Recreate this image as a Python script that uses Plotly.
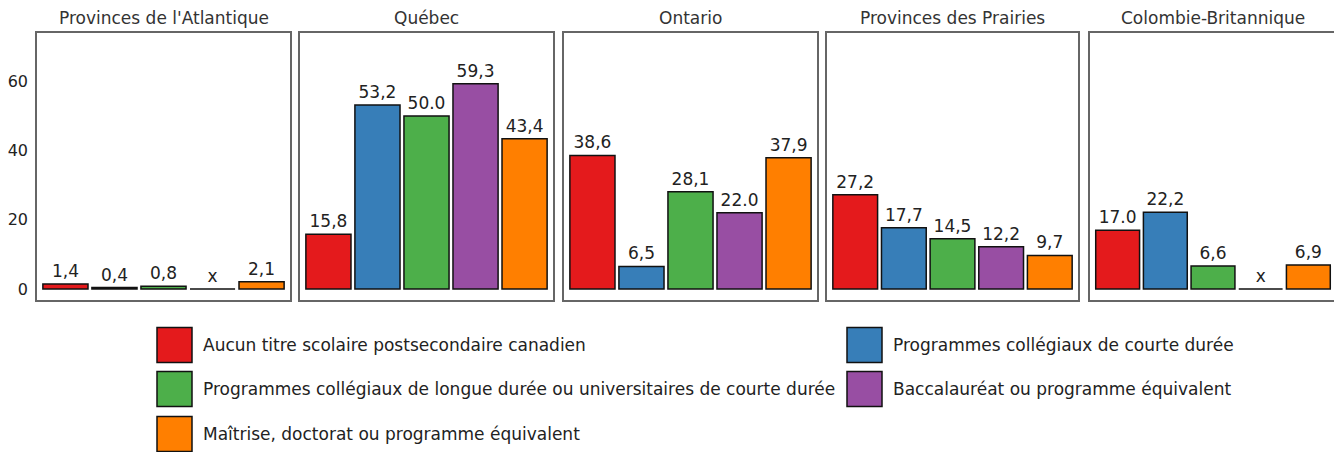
import plotly.graph_objects as go

# ---------------- data ----------------
provinces = ["Provinces de l'Atlantique", "Québec", "Ontario",
             "Provinces des Prairies", "Colombie-Britannique"]
categories = ["Aucun titre scolaire postsecondaire canadien",
              "Programmes collégiaux de courte durée",
              "Programmes collégiaux de longue durée ou universitaires de courte durée",
              "Baccalauréat ou programme équivalent",
              "Maîtrise, doctorat ou programme équivalent"]
colors = ["#e41a1c", "#377eb8", "#4daf4a", "#984ea3", "#ff7f00"]

atlantique = [1.4, 0.4, 0.8, None, 2.1]
quebec = [15.8, 53.2, 50.0, 59.3, 43.4]
ontario = [38.6, 6.5, 28.1, 22.0, 37.9]
prairies = [27.2, 17.7, 14.5, 12.2, 9.7]
colombie = [17.0, 22.2, 6.6, None, 6.9]

atlantique_labels = ["1,4", "0,4", "0,8", "x", "2,1"]
quebec_labels = ["15,8", "53,2", "50.0", "59,3", "43,4"]
ontario_labels = ["38,6", "6,5", "28,1", "22.0", "37,9"]
prairies_labels = ["27,2", "17,7", "14,5", "12,2", "9,7"]
colombie_labels = ["17.0", "22,2", "6,6", "x", "6,9"]

y_ticks = [0, 20, 40, 60]

series = [atlantique, quebec, ontario, prairies, colombie]
labels = [atlantique_labels, quebec_labels, ontario_labels, prairies_labels, colombie_labels]

# ---------------- layout helpers ----------------
W, H = 1342, 452
OFF = 8  # page body margin
L, R, T, B = 37 - OFF, 1336 - OFF, 33 - OFF, 300 - OFF
PW, PH = R - L, B - T


def px_x(x):
    return (x - OFF - L) / PW


def px_y(y):
    return (B - (y - OFF)) / PH


panel_edges = [(37, 290), (300, 553), (564, 817), (827, 1078), (1090, 1336)]
FONT = "DejaVu Sans, Verdana, sans-serif"

fig = go.Figure()
layout_axes = {}
annotations = []
for i, (prov, vals, labs) in enumerate(zip(provinces, series, labels)):
    n = "" if i == 0 else str(i + 1)
    ys = [0 if v is None else v for v in vals]
    fig.add_trace(go.Bar(
        x=list(range(len(categories))), y=ys,
        text=labs, textposition="outside", cliponaxis=False,
        textfont=dict(family=FONT, size=17, color="#222222"),
        marker=dict(color=colors, line=dict(color="#111111", width=1.5)),
        xaxis="x" + n, yaxis="y" + n, showlegend=False,
        hovertext=categories, name=prov,
    ))
    x0, x1 = panel_edges[i]
    layout_axes["xaxis" + n] = dict(
        domain=[px_x(x0), px_x(x1)], anchor="y" + n,
        range=[-0.58, 4.58], showticklabels=False, ticks="",
        showgrid=False, zeroline=False, automargin=False,
        showline=True, mirror=True, linecolor="#666666", linewidth=1.5,
    )
    layout_axes["yaxis" + n] = dict(
        domain=[0, 1], anchor="x" + n,
        range=[-3.2, 74], tickvals=y_ticks, showticklabels=(i == 0),
        ticks="", ticklabelstandoff=4, automargin=False,
        ticklabeloverflow="allow",
        tickfont=dict(family=FONT, size=16, color="#222222"),
        showgrid=False, zeroline=False,
        showline=True, mirror=True, linecolor="#666666", linewidth=1.5,
    )
    annotations.append(dict(
        text=prov, x=(px_x(x0) + px_x(x1)) / 2, y=px_y(18),
        xref="paper", yref="paper", xanchor="center", yanchor="middle",
        showarrow=False, font=dict(family=FONT, size=17, color="#333333"),
    ))

# ---------------- custom legend ----------------
shapes = []
legend_pos = [(157, 345), (847, 345), (157, 389), (847, 389), (157, 434)]
for cat, col, (sx, cy) in zip(categories, colors, legend_pos):
    shapes.append(dict(
        type="rect", xref="paper", yref="paper",
        x0=px_x(sx), x1=px_x(sx + 35), y0=px_y(cy - 17.5), y1=px_y(cy + 17.5),
        fillcolor=col, line=dict(color="#111111", width=1.5),
    ))
    annotations.append(dict(
        text=cat, x=px_x(sx + 44), y=px_y(cy), xref="paper", yref="paper",
        xanchor="left", yanchor="middle", showarrow=False,
        font=dict(family=FONT, size=17, color="#222222"),
    ))

fig.update_layout(
    width=W, height=H,
    margin=dict(l=L, r=W - R, t=T, b=H - B, autoexpand=False),
    plot_bgcolor="white", paper_bgcolor="white",
    bargap=0.08,
    annotations=annotations, shapes=shapes,
    font=dict(family=FONT),
    **layout_axes,
)

fig.write_html("out.html")
